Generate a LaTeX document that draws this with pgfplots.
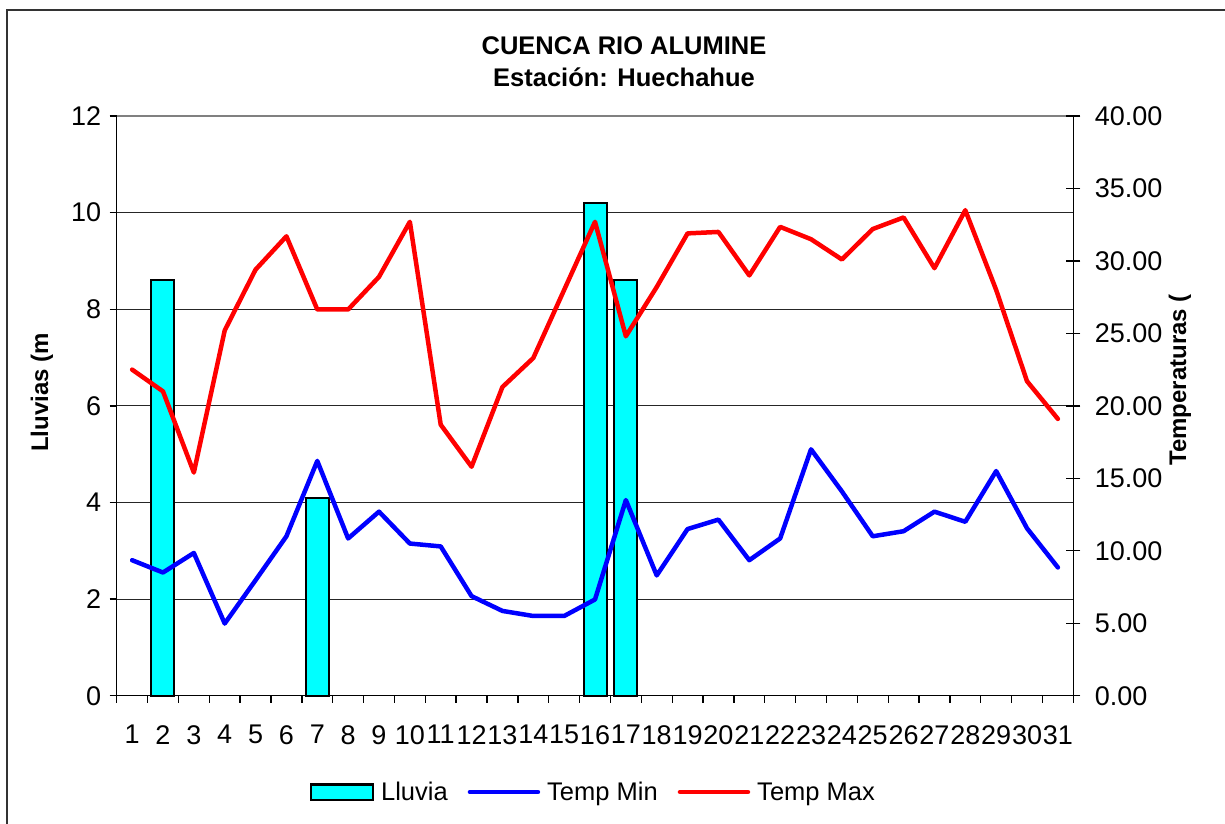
\documentclass[border=0pt]{standalone}
\usepackage{fontspec}
\setmainfont{Liberation Sans}
\usepackage{pgfplots}
\pgfplotsset{compat=1.18}
\definecolor{barcyan}{RGB}{0,255,255}
\definecolor{tmin}{RGB}{0,0,255}
\definecolor{tmax}{RGB}{255,0,0}
\pgfplotsset{
  linelegend/.style={legend image code/.code={\draw[##1] (0pt,0pt) -- (68pt,0pt);}},
  barlegend/.style={legend image code/.code={\draw[fill=barcyan, draw=black, line width=2pt] (0pt,-7.5pt) rectangle (62pt,7.5pt);}},
}
\begin{document}
\begin{tikzpicture}[x=1pt,y=1pt]
\useasboundingbox (0,0) rectangle (1225,823);
\draw[line width=2pt, black!80] (7,-30) -- (7,813) -- (1260,813);
\node[font=\bfseries\fontsize{25.5}{30}\selectfont, anchor=base] at (624,768) {CUENCA RIO ALUMINE};
\node[font=\bfseries\fontsize{25.5}{30}\selectfont, anchor=base] at (624,736.5) {Estación: Huechahue};

\begin{axis}[
  at={(116.7pt,127.3pt)}, anchor=south west,
  scale only axis, width=956.6pt, height=579.7pt,
  xmin=0.5, xmax=31.5, ymin=0, ymax=12,
  axis x line*=bottom, axis y line*=left,
  axis line style={line width=1.5pt, black},
  /pgf/number format/assume math mode=true,
  tick label style={font=\fontsize{27}{30}\selectfont, black},
  xticklabel style={yshift=-19pt},
  yticklabel style={xshift=-5pt},
  xtick={1,...,31},
  major x tick style={draw=none},
  minor xtick={0.5,1.5,...,31.5},
  minor x tick style={line width=1.3pt, black},
  minor tick length=7pt,
  ytick={0,2,...,10},
  extra y ticks={12},
  extra y tick style={grid style={line width=2pt, black!50}},
  major y tick style={line width=1.3pt, black},
  major tick length=7pt,
  tick align=outside,
  ymajorgrids,
  grid style={line width=1pt, black!85},
  ylabel={Lluvias (m},
  ylabel style={font=\bfseries\fontsize{24}{28}\selectfont, at={(axis description cs:-0.0781,0.523)}, anchor=center},
  clip=false,
]
\addplot[ybar, bar width=23pt, bar shift=0pt, fill=barcyan, draw=black, line width=2pt]
  coordinates {(2,8.6) (7,4.1) (16,10.2) (17,8.6)};
\end{axis}

\begin{axis}[
  at={(116.7pt,127.3pt)}, anchor=south west,
  scale only axis, width=956.6pt, height=579.7pt,
  xmin=0.5, xmax=31.5, ymin=0, ymax=40,
  axis x line=none, axis y line*=right,
  axis line style={line width=1.5pt, black},
  /pgf/number format/assume math mode=true,
  tick label style={font=\fontsize{27}{30}\selectfont, black},
  ytick={0,5,...,40},
  yticklabel style={xshift=11pt, /pgf/number format/fixed, /pgf/number format/fixed zerofill, /pgf/number format/precision=2},
  major y tick style={line width=1.3pt, black},
  major tick length=14pt,
  tick align=center,
  ylabel={Temperaturas (},
  ylabel style={font=\bfseries\fontsize{24}{28}\selectfont, at={(axis description cs:1.1115,0.5446)}, anchor=center},
  legend style={at={(axis description cs:0.4984,-0.1661)}, anchor=center, draw=none, fill=none,
    font=\fontsize{25.5}{30}\selectfont, legend columns=3,
    /tikz/every odd column/.append style={column sep=5pt},
    /tikz/every even column/.append style={column sep=18pt}},
  legend cell align=left,
  clip=false,
]
\addlegendimage{barlegend}
\addlegendentry{Lluvia}
\addplot[tmin, line width=4.5pt, line join=round, line cap=round, linelegend]
  coordinates {(1,9.35) (2,8.5) (3,9.85) (4,4.98) (5,7.97) (6,11.0) (7,16.2) (8,10.85) (9,12.7) (10,10.5)
  (11,10.3) (12,6.87) (13,5.85) (14,5.5) (15,5.5) (16,6.64) (17,13.5) (18,8.3) (19,11.5) (20,12.15)
  (21,9.35) (22,10.85) (23,17.0) (24,14.1) (25,11.0) (26,11.35) (27,12.7) (28,12.0) (29,15.5) (30,11.55) (31,8.85)};
\addlegendentry{Temp Min}
\addplot[tmax, line width=4.5pt, line join=round, line cap=round, linelegend]
  coordinates {(1,22.5) (2,21.0) (3,15.4) (4,25.2) (5,29.4) (6,31.7) (7,26.65) (8,26.65) (9,28.9) (10,32.7)
  (11,18.7) (12,15.8) (13,21.3) (14,23.3) (15,28.0) (16,32.7) (17,24.8) (18,28.2) (19,31.9) (20,32.0)
  (21,29.0) (22,32.35) (23,31.5) (24,30.1) (25,32.2) (26,33.0) (27,29.5) (28,33.5) (29,28.0) (30,21.7) (31,19.1)};
\addlegendentry{Temp Max}
\end{axis}
\end{tikzpicture}
\end{document}
